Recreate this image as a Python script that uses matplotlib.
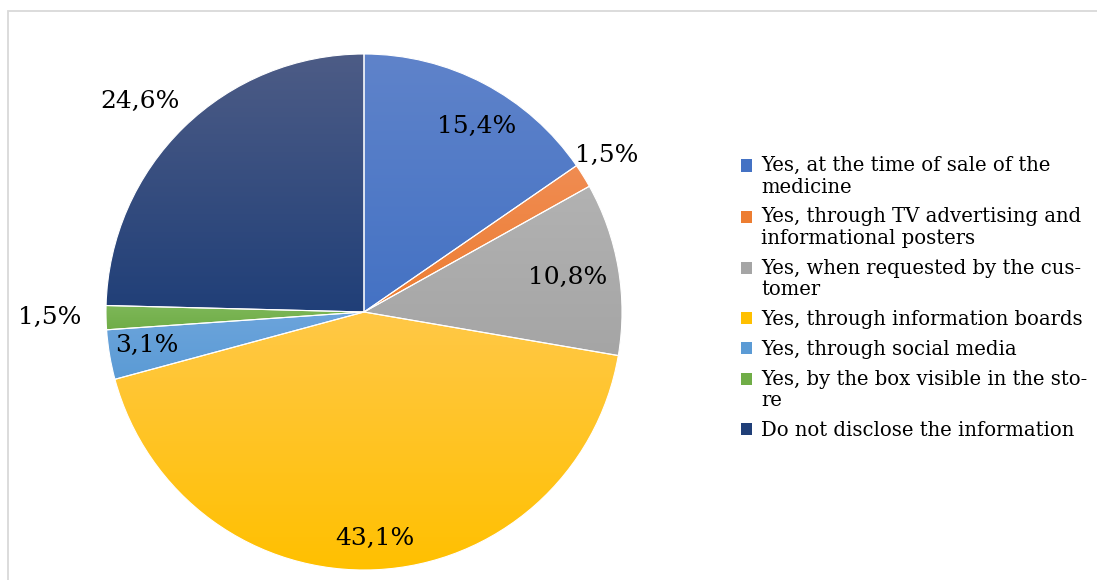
import numpy as np
import matplotlib
matplotlib.use("Agg")
import matplotlib.pyplot as plt
from matplotlib.patches import Rectangle, Patch
from matplotlib.legend_handler import HandlerPatch
from matplotlib.colors import to_rgb

labels = [
    "Yes, at the time of sale of the\nmedicine",
    "Yes, through TV advertising and\ninformational posters",
    "Yes, when requested by the cus-\ntomer",
    "Yes, through information boards",
    "Yes, through social media",
    "Yes, by the box visible in the sto-\nre",
    "Do not disclose the information",
]
values = [15.4, 1.5, 10.8, 43.1, 3.1, 1.5, 24.6]
value_text = ["15,4%", "1,5%", "10,8%", "43,1%", "3,1%", "1,5%", "24,6%"]

# gradient colours, top -> bottom
top_colors = ["#5f83ca", "#f08c52", "#b2b2b2", "#ffc847", "#6ca4dc", "#7db758", "#4d5c86"]
bot_colors = ["#4472c4", "#ed7d31", "#a5a5a5", "#ffc000", "#5b9bd5", "#70ad47", "#203f78"]
# distance of each percentage label from the centre (pie radius = 1)
label_dist = [0.84, 1.12, 0.80, 0.88, 0.85, 1.22, 1.19]
label_shift = [-3.5, 1.0, 0.0, 0.0, -0.8, -0.2, 2.5]

LEG_SIZE = 14.1
LEG_LS = 1.17


class FirstLineHandler(HandlerPatch):
    # put the square next to the first line of a wrapped label
    def create_artists(self, legend, orig_handle, xdescent, ydescent,
                       width, height, fontsize, trans):
        shift = getattr(orig_handle, "_nl", 0) * 0.5 * LEG_LS * fontsize
        p = Rectangle((-xdescent, -ydescent + shift), width, height,
                      facecolor=orig_handle.get_facecolor(), edgecolor="none",
                      transform=trans)
        return [p]


def main():
    fig = plt.figure(figsize=(10.97, 5.80), dpi=100)
    W, H = 1097, 580

    frame = Rectangle((7.5 / W, -0.1), 1.2, (H - 10.5) / H + 0.1,
                      transform=fig.transFigure, fill=False,
                      edgecolor="#d9d9d9", linewidth=1.3)
    fig.add_artist(frame)

    ax = fig.add_axes([106 / W, 10 / H, 516 / W, 516 / H])

    wedges, _ = ax.pie(values, startangle=90, counterclock=False, radius=1,
                       wedgeprops=dict(edgecolor="white", linewidth=0.8))

    for w, c0, c1 in zip(wedges, top_colors, bot_colors):
        ext = w.get_path().get_extents()
        a, b = np.array(to_rgb(c0)), np.array(to_rgb(c1))
        t = np.linspace(0, 1, 256)[:, None]
        grad = (a * (1 - t) + b * t)[:, None, :]
        im = ax.imshow(grad, extent=[ext.x0, ext.x1, ext.y0, ext.y1],
                       origin="upper", aspect="auto", zorder=1,
                       interpolation="bilinear")
        im.set_clip_path(w)
        w.set_facecolor("none")
        w.set_zorder(2)

    for w, txt, d, s in zip(wedges, value_text, label_dist, label_shift):
        ang = np.deg2rad((w.theta1 + w.theta2) / 2 + s)
        ax.text(d * np.cos(ang), d * np.sin(ang), txt, ha="center", va="center",
                fontsize=18, family="DejaVu Serif", color="black", zorder=5)

    ax.set_xlim(-1, 1)
    ax.set_ylim(-1, 1)
    ax.set_aspect("equal")
    ax.axis("off")

    handles = []
    for lab, c in zip(labels, bot_colors):
        h = Patch(facecolor=c, label=lab)
        h._nl = lab.count("\n")
        handles.append(h)

    leg = fig.legend(handles=handles, loc="center left",
                     bbox_to_anchor=(741 / W, (H - 298) / H),
                     frameon=False, borderpad=0, borderaxespad=0,
                     handlelength=0.58, handleheight=0.58, handletextpad=0.45,
                     labelspacing=0.55,
                     prop=dict(family="DejaVu Serif", size=LEG_SIZE),
                     handler_map={Patch: FirstLineHandler()})
    for t in leg.get_texts():
        t.set_linespacing(LEG_LS)

    fig.savefig("out.png", dpi=100, facecolor="white")


if __name__ == "__main__":
    main()
